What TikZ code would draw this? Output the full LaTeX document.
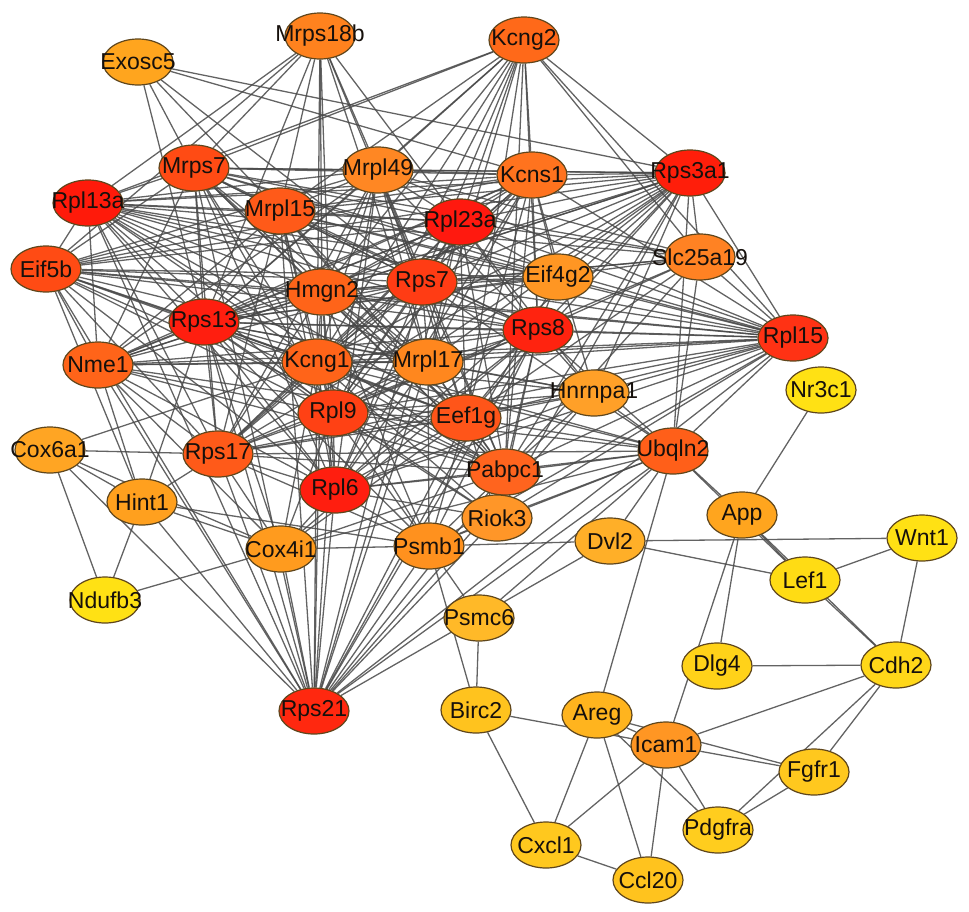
\documentclass[tikz,border=0pt]{standalone}
\usepackage{fontspec}
\setmainfont{Liberation Sans}
\usetikzlibrary{shapes.geometric,backgrounds}
\definecolor{edgecol}{RGB}{72,72,72}
\definecolor{bordercol}{RGB}{95,70,28}
\definecolor{txtcol}{RGB}{22,16,12}
\tikzset{
  gnode/.style={ellipse, draw=bordercol, line width=1.2pt, minimum width=70pt, minimum height=46pt, inner sep=0pt},
  glabel/.style={inner sep=0pt, text=txtcol, font=\fontsize{23}{23}\selectfont},
  edge/.style={draw=edgecol, line width=1.3pt, opacity=0.85}
}
\def\corelist{Rpl13a,Mrps7,Mrpl15,Mrpl49,Rpl23a,Rps7,Hmgn2,Rps13,Kcng1,Mrpl17,Rpl9,Eef1g,Rps8,Rps3a1,Rpl15,Eif5b,Rps17,Rpl6,Pabpc1,Nme1,Kcns1}
\begin{document}
\begin{tikzpicture}[x=1pt,y=-1pt]
\useasboundingbox (0,0) rectangle (969,911);
% nodes: name/x/y/green/blue (red = 255)
\foreach \n/\x/\y/\g/\b in {
 Exosc5/138/62/165/30, Mrps18b/320/36/130/30, Kcng2/524/40/105/25,
 Mrps7/194/168/75/20, Mrpl49/378/170/135/35, Kcns1/532/175/115/30,
 Rps3a1/690/173/30/10, Rpl13a/88/203/26/10, Mrpl15/280/211/90/25,
 Rpl23a/460/222/25/15, Slc25a19/700/257/130/35, Eif5b/46/269/75/20,
 Eif4g2/558/277/150/35, Rps7/422/282/60/20, Hmgn2/322/292/100/25,
 Rps13/204/322/30/15, Rps8/538/330/35/15, Rpl15/793/338/50/20,
 Nme1/98/365/100/25, Kcng1/317/362/100/25, Mrpl17/428/362/135/30,
 Nr3c1/821/390/225/20, Hnrnpa1/594/393/160/40, Rpl9/333/413/65/20,
 Eef1g/466/418/85/25, Cox6a1/50/450/165/35, Rps17/218/454/90/25,
 Ubqln2/673/451/95/25, Pabpc1/505/472/100/30, Rpl6/335/490/30/15,
 Hint1/142/502/160/30, Riok3/497/518/150/40, App/742/515/165/30,
 Wnt1/922/538/225/20, Dvl2/610/541/175/40, Psmb1/429/546/145/30,
 Cox4i1/281/549/155/30, Lef1/805/580/220/20, Ndufb3/105/600/225/20,
 Psmc6/479/618/185/40, Dlg4/717/666/210/25, Cdh2/896/665/215/25,
 Rps21/314/711/40/15, Birc2/476/710/195/30, Areg/597/715/180/30,
 Icam1/666/745/150/35, Fgfr1/814/772/200/30, Pdgfra/718/830/205/30,
 Cxcl1/546/845/200/30, Ccl20/648/880/195/30}
  {\node[gnode, fill={rgb,255:red,255;green,\g;blue,\b}] (\n) at (\x,\y) {};
   \node[glabel] (\n-t) at (\n) {\n};}
\begin{pgfonlayer}{background}
% dense core
\foreach \a [count=\i] in \corelist {
  \foreach \c [count=\j] in \corelist {
    \ifnum\j>\i \draw[edge] (\a) -- (\c); \fi
  }
}
% other connections
\foreach \a/\c in {
 Exosc5/Rps13, Exosc5/Mrps7, Exosc5/Mrpl15, Exosc5/Rps7, Exosc5/Kcns1, Exosc5/Rps3a1,
 Mrps18b/Rpl13a, Mrps18b/Mrps7, Mrps18b/Mrpl15, Mrps18b/Hmgn2, Mrps18b/Mrpl49, Mrps18b/Rps13,
 Mrps18b/Eif5b, Mrps18b/Kcng1, Mrps18b/Rpl23a, Mrps18b/Rps7, Mrps18b/Mrpl17, Mrps18b/Rpl9,
 Kcng2/Rpl13a, Kcng2/Mrps7, Kcng2/Mrpl49, Kcng2/Rps7, Kcng2/Rpl23a, Kcng2/Rps13, Kcng2/Kcng1,
 Kcng2/Mrpl17, Kcng2/Rpl9, Kcng2/Eef1g, Kcng2/Kcns1, Kcng2/Rps3a1, Kcng2/Rpl15, Kcng2/Slc25a19,
 Kcng2/Rps8, Kcng2/Hmgn2, Kcng2/Pabpc1, Kcng2/Mrpl15,
 Eif4g2/Kcns1, Eif4g2/Rpl23a, Eif4g2/Rps7, Eif4g2/Rps8, Eif4g2/Hmgn2, Eif4g2/Mrpl15,
 Eif4g2/Rps13, Eif4g2/Rpl13a, Eif4g2/Rps3a1, Eif4g2/Rpl15, Eif4g2/Mrps7, Eif4g2/Eif5b,
 Slc25a19/Rps3a1, Slc25a19/Rpl15, Slc25a19/Ubqln2, Slc25a19/Rpl13a, Slc25a19/Mrps7, Slc25a19/Rps7,
 Slc25a19/Rps13, Slc25a19/Hmgn2, Slc25a19/Pabpc1, Slc25a19/Eef1g, Slc25a19/Rpl9, Slc25a19/Rps8,
 Slc25a19/Mrpl49, Slc25a19/Rpl23a,
 Hnrnpa1/Rpl15, Hnrnpa1/Rps3a1, Hnrnpa1/Ubqln2, Hnrnpa1/Rps8, Hnrnpa1/Eef1g, Hnrnpa1/Rpl9,
 Hnrnpa1/Rps21, Hnrnpa1/Pabpc1, Hnrnpa1/Rps13, Hnrnpa1/Kcng1, Hnrnpa1/Rpl6, Hnrnpa1/Mrpl17,
 Hnrnpa1/Rps17, Hnrnpa1/Rpl23a, Hnrnpa1/Kcns1,
 Ubqln2/Rpl15, Ubqln2/Rps8, Ubqln2/Eef1g, Ubqln2/Pabpc1, Ubqln2/Riok3, Ubqln2/Psmb1,
 Ubqln2/Cox4i1, Ubqln2/Rpl6, Ubqln2/Rps21, Ubqln2/Dvl2, Ubqln2/Psmc6, Ubqln2/App, Ubqln2/Lef1,
 Ubqln2/Areg, Ubqln2/Rps17, Ubqln2/Rpl9, Ubqln2/Rps3a1, Ubqln2/Rps7, Ubqln2/Kcng1, Ubqln2/Rps13,
 Riok3/Pabpc1, Riok3/Psmb1, Riok3/Rpl6, Riok3/Rps21, Riok3/Rps8, Riok3/Eef1g, Riok3/Rpl15,
 Riok3/Rps13, Riok3/Rps3a1, Riok3/Rpl9, Riok3/Kcng1,
 Psmb1/Pabpc1, Psmb1/Rpl6, Psmb1/Rpl9, Psmb1/Rps21, Psmb1/Cox4i1, Psmb1/Psmc6, Psmb1/Birc2,
 Psmb1/Rps17, Psmb1/Kcng1, Psmb1/Hmgn2, Psmb1/Rps13, Psmb1/Eef1g, Psmb1/Rpl15, Psmb1/Mrpl17,
 Psmb1/Dvl2, Psmb1/Hint1, Psmb1/Rps8,
 Cox4i1/Rps21, Cox4i1/Rpl6, Cox4i1/Rps17, Cox4i1/Hint1, Cox4i1/Cox6a1, Cox4i1/Ndufb3, Cox4i1/Nme1,
 Cox4i1/Rps13, Cox4i1/Kcng1, Cox4i1/Rpl9, Cox4i1/Eef1g, Cox4i1/Rps8, Cox4i1/Pabpc1,
 Rps21/Cox6a1, Rps21/Hint1, Rps21/Nme1, Rps21/Rps17, Rps21/Rpl6, Rps21/Rpl9, Rps21/Kcng1,
 Rps21/Rps13, Rps21/Hmgn2, Rps21/Mrpl17, Rps21/Eef1g, Rps21/Pabpc1, Rps21/Rps8, Rps21/Dvl2,
 Rps21/Rps7, Rps21/Rpl23a, Rps21/Mrpl15, Rps21/Rpl13a, Rps21/Eif5b, Rps21/Mrps7, Rps21/Rpl15,
 Rps21/Eif4g2,
 Hint1/Cox6a1, Hint1/Ndufb3, Hint1/Rps17, Hint1/Nme1, Hint1/Eif5b, Hint1/Rps13,
 Cox6a1/Ndufb3, Cox6a1/Rps17, Cox6a1/Kcng1,
 Psmc6/Birc2, Birc2/Icam1, Birc2/Cxcl1, Areg/Cxcl1, Areg/Ccl20, Areg/Icam1, Areg/Fgfr1,
 Areg/Pdgfra, Icam1/Cxcl1, Icam1/Ccl20, Icam1/Cdh2, Icam1/Fgfr1, Icam1/Pdgfra, Icam1/App,
 Cxcl1/Ccl20, Fgfr1/Pdgfra, Cdh2/Pdgfra, Cdh2/Fgfr1, Dlg4/Cdh2, App/Dlg4, Dvl2/Wnt1, Dvl2/Lef1,
 App/Lef1, Lef1/Wnt1, Lef1/Cdh2, App/Cdh2, Wnt1/Cdh2, Nr3c1/App}
  \draw[edge] (\a) -- (\c);
\end{pgfonlayer}
\end{tikzpicture}
\end{document}
